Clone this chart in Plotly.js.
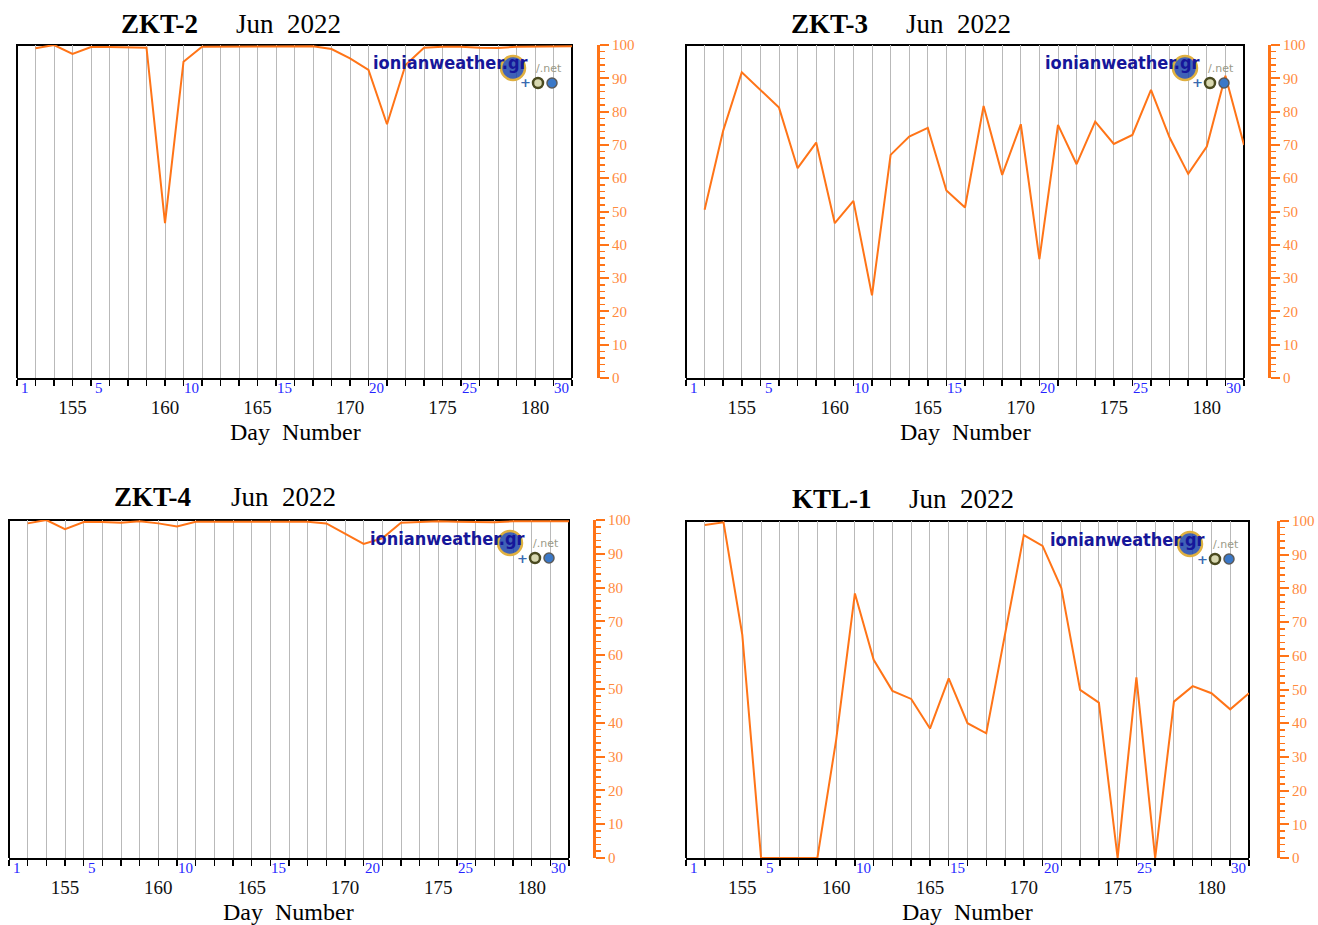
<!DOCTYPE html>
<html>
<head>
<meta charset="utf-8">
<script src="https://cdn.plot.ly/plotly-3.0.1.min.js"></script>
<style>html,body{margin:0;padding:0;background:#fff;}#chart{width:1318px;height:925px;}</style>
</head>
<body>
<div id="chart"></div>
<script>
// ---- data ----
const days = [153,154,155,156,157,158,159,160,161,162,163,164,165,166,167,168,169,170,171,172,173,174,175,176,177,178,179,180,181,182];
const zkt2 = [99,100,97.3,99.4,99.4,99.4,99.2,46.5,95,99.5,99.5,99.5,99.6,99.6,99.6,99.6,98.8,96,92.5,76.2,94,99.2,99.5,99.5,99.2,99.1,99.5,99.6,99.6,99.6];
const zkt3 = [50.5,74.3,91.8,86.4,81.2,63,70.7,46.5,53.2,24.8,67,72.5,75.1,56.3,51.2,81.7,61,76.2,35.7,76,64.2,77,70.3,73,86.5,72.2,61.3,69.5,90.8,70];
const zkt4 = [99,100,97.3,99.4,99.4,99.2,99.6,99,98.1,99.5,99.5,99.5,99.5,99.5,99.5,99.5,99,96,92.9,94.6,99.2,99.4,99.6,99.5,99.3,99.3,99.6,99.6,99.6,99.6];
const ktl1 = [98.8,99.6,66.2,0,0,0,0,35,78.5,58.8,49.6,47.2,38.4,53.3,40,37,67,95.8,92.6,80.1,49.9,46.1,0,53.6,0,46.4,51,48.9,44.1,48.9];
const stations = ['ZKT-2','ZKT-3','ZKT-4','KTL-1'];
const monthTitle = 'Jun\u00A0\u00A02022';
const xTickVals = [152,153,154,155,156,157,158,159,160,161,162,163,164,165,166,167,168,169,170,171,172,173,174,175,176,177,178,179,180,181,182];
const xTickText = ['','','','155','','','','','160','','','','','165','','','','','170','','','','','175','','','','','180','',''];
const domLabels = ['1','5','10','15','20','25','30'];
const domDays = [152,156,161,166,171,176,181];
const series = [zkt2, zkt3, zkt4, ktl1];

// ---- layout geometry (pixels) ----
const W = 1318, H = 925;
const fx = p => p / W, fy = p => 1 - p / H;
const panels = [
  {x0:17,  x1:572,  y0:45,  y1:378, yax:598,  t1:159, t2:288, ty:24,  dnx:295, dny:432},
  {x0:686, x1:1244, y0:45,  y1:378, yax:1269, t1:829, t2:958, ty:24,  dnx:965, dny:432},
  {x0:9,   x1:569,  y0:520, y1:858, yax:594,  t1:152, t2:283, ty:497, dnx:288, dny:912},
  {x0:686, x1:1249, y0:521, y1:858, yax:1278, t1:832, t2:961, ty:499, dnx:967, dny:912}
];

const LINE = '#ff7417';
const ORANGE_TXT = '#ff8a3d';
const SERIF = 'Liberation Serif, Times New Roman, serif';

const traces = [];
const layout = {
  width: W, height: H,
  margin: {l:0, r:0, t:0, b:0},
  paper_bgcolor: '#ffffff', plot_bgcolor: '#ffffff',
  showlegend: false,
  annotations: [], shapes: []
};

panels.forEach((p, i) => {
  const n = i === 0 ? '' : String(i + 1);
  const xa = 'xaxis' + n, ya = 'yaxis' + n;
  traces.push({
    type: 'scatter', mode: 'lines',
    x: days, y: series[i],
    xaxis: 'x' + n, yaxis: 'y' + n,
    line: {color: LINE, width: 2},
    cliponaxis: false,
    hoverinfo: 'skip'
  });
  layout[xa] = {
    domain: [fx(p.x0), fx(p.x1)],
    anchor: 'y' + n,
    range: [152, 182],
    tickmode: 'array', tickvals: xTickVals, ticktext: xTickText,
    ticks: 'outside', ticklen: 6, tickwidth: 1.5, tickcolor: '#000',
    ticklabelstandoff: 5,
    tickfont: {family: SERIF, size: 19, color: '#111'},
    showgrid: true, gridcolor: '#b9b9b9', gridwidth: 1,
    showline: true, linecolor: '#000', linewidth: 2,
    layer: 'below traces',
    zeroline: false, fixedrange: true
  };
  layout[ya] = {
    domain: [fy(p.y1), fy(p.y0)],
    anchor: 'free', position: fx(p.yax), side: 'right',
    range: [0, 100],
    tickmode: 'linear', tick0: 0, dtick: 10,
    ticks: 'outside', ticklen: 9, tickwidth: 2, tickcolor: LINE,
    minor: {dtick: 2, ticklen: 5, tickwidth: 1.5, tickcolor: LINE, ticks: 'outside', showgrid: false},
    tickfont: {family: SERIF, size: 15, color: ORANGE_TXT},
    showgrid: false, zeroline: false,
    showline: true, linecolor: LINE, linewidth: 3,
    fixedrange: true
  };
  // plot frame (left, top, right edges; bottom edge is the x axis line)
  const L = fx(p.x0), Rr = fx(p.x1), Tp = fy(p.y0), Bt = fy(p.y1);
  layout.shapes.push({type: 'path', xref: 'paper', yref: 'paper',
    path: `M ${L} ${Bt} L ${L} ${Tp} L ${Rr} ${Tp} L ${Rr} ${Bt}`,
    line: {color: '#000', width: 2}, layer: 'below'});
  // titles
  layout.annotations.push({xref: 'paper', yref: 'paper', x: fx(p.t1), y: fy(p.ty), xanchor: 'center', yanchor: 'middle',
    text: '<b>' + stations[i] + '</b>', showarrow: false, font: {family: SERIF, size: 27, color: '#000'}});
  layout.annotations.push({xref: 'paper', yref: 'paper', x: fx(p.t2), y: fy(p.ty), xanchor: 'center', yanchor: 'middle',
    text: monthTitle, showarrow: false, font: {family: SERIF, size: 27, color: '#000'}});
  layout.annotations.push({xref: 'paper', yref: 'paper', x: fx(p.dnx), y: fy(p.dny), xanchor: 'center', yanchor: 'middle',
    text: 'Day\u00A0\u00A0Number', showarrow: false, font: {family: SERIF, size: 24, color: '#000'}});
  // day-of-month labels
  domDays.forEach((d, k) => {
    layout.annotations.push({xref: 'x' + n, yref: 'paper', x: d + 0.45, y: fy(p.y1 + 10), xanchor: 'center', yanchor: 'middle',
      text: domLabels[k], showarrow: false, font: {family: SERIF, size: 15, color: '#2424ff'}});
  });
  // watermark
  const R = p.x1, T = p.y0;
  layout.shapes.push({type: 'circle', xref: 'paper', yref: 'paper', layer: 'above',
    x0: fx(R - 71), x1: fx(R - 47), y0: fy(T + 35), y1: fy(T + 11),
    fillcolor: 'rgba(30,70,170,0.85)', line: {color: '#e0b040', width: 2.5}});
  layout.shapes.push({type: 'circle', xref: 'paper', yref: 'paper', layer: 'above',
    x0: fx(R - 39), x1: fx(R - 29), y0: fy(T + 43), y1: fy(T + 33),
    fillcolor: '#d8d8b0', line: {color: '#4a4a20', width: 2.5}});
  layout.shapes.push({type: 'circle', xref: 'paper', yref: 'paper', layer: 'above',
    x0: fx(R - 25), x1: fx(R - 15), y0: fy(T + 43), y1: fy(T + 33),
    fillcolor: '#3a78c8', line: {color: '#5a5a5a', width: 1.5}});
  layout.annotations.push({xref: 'paper', yref: 'paper', x: fx(R - 122), y: fy(T + 18), xanchor: 'center', yanchor: 'middle',
    text: '<b>ionianweather.gr</b>', showarrow: false, font: {family: 'DejaVu Sans Condensed, DejaVu Sans, sans-serif', size: 18, color: '#16169a'}});
  layout.annotations.push({xref: 'paper', yref: 'paper', x: fx(R - 23), y: fy(T + 23), xanchor: 'center', yanchor: 'middle',
    text: '/.net', showarrow: false, font: {family: 'DejaVu Sans, sans-serif', size: 11, color: '#9a9a88'}});
  layout.annotations.push({xref: 'paper', yref: 'paper', x: fx(R - 47), y: fy(T + 38), xanchor: 'center', yanchor: 'middle',
    text: '<b>+</b>', showarrow: false, font: {family: 'DejaVu Sans, sans-serif', size: 13, color: '#3a6ab0'}});
});

Plotly.newPlot('chart', traces, layout, {displayModeBar: false, staticPlot: true});
</script>
</body>
</html>
